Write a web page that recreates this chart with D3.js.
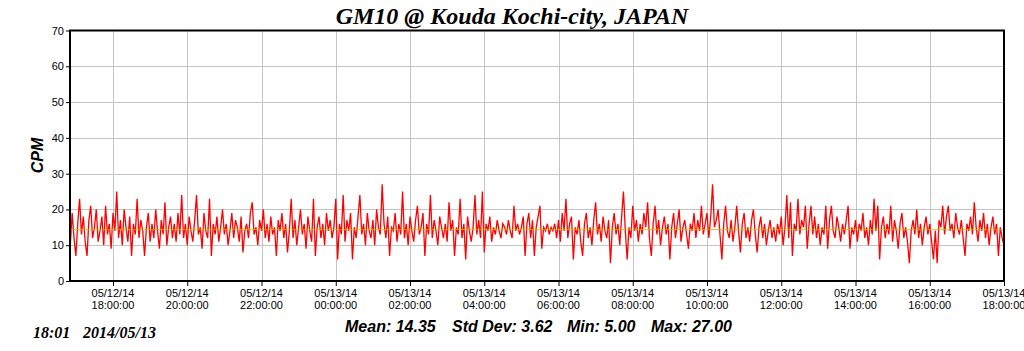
<!DOCTYPE html>
<html>
<head>
<meta charset="utf-8">
<script src="https://cdn.jsdelivr.net/npm/d3@7"></script>
<style>
  html, body { margin: 0; padding: 0; background: #fff; }
  svg { display: block; }
</style>
</head>
<body>
<svg id="chart" width="1024" height="351"></svg>
<script>
// ---- data ----
const titleText = "GM10 @ Kouda Kochi-city, JAPAN";
const yLabel = "CPM";
const startTime = "2014-05-12 16:51";   // first sample
const stepMinutes = 3;                    // sample spacing
const domainStart = "2014-05-12 16:50:30";
const domainEnd = "2014-05-13 18:00:00";
const yTicks = [0, 10, 20, 30, 40, 50, 60, 70];
const xTickLabels = [
  "05/12/14 18:00:00", "05/12/14 20:00:00", "05/12/14 22:00:00",
  "05/13/14 00:00:00", "05/13/14 02:00:00", "05/13/14 04:00:00",
  "05/13/14 06:00:00", "05/13/14 08:00:00", "05/13/14 10:00:00",
  "05/13/14 12:00:00", "05/13/14 14:00:00", "05/13/14 16:00:00",
  "05/13/14 18:00:00"
];
const cpm = [
  10,19,12,7,16,23,13,18,11,7,17,21,12,15,20,11,14,18,10,21,
  13,16,9,19,14,25,12,17,10,20,15,11,18,7,16,13,23,12,17,14,
  7,15,19,11,16,12,20,14,9,17,13,22,10,15,18,12,16,11,19,13,
  24,12,16,10,18,14,11,17,24,13,15,9,19,14,12,23,7,16,13,18,
  11,15,20,13,16,10,14,19,12,17,15,11,18,8,14,16,12,19,22,13,
  15,10,17,14,20,12,16,11,18,13,15,7,17,14,19,12,16,8,14,23,
  12,17,10,15,20,13,16,9,18,14,11,23,7,15,18,12,16,10,19,14,
  17,12,15,23,6,16,13,24,11,17,14,19,6,15,12,18,24,13,16,10,
  19,14,12,17,10,20,15,13,27,16,12,18,7,15,14,19,11,16,13,25,
  12,16,10,18,14,11,17,21,13,15,19,7,16,13,24,12,17,14,10,18,
  15,12,16,11,22,14,17,7,15,13,23,12,16,6,18,14,11,15,24,13,
  17,12,25,8,16,14,18,11,15,13,17,14,12,16,15,13,17,14,12,21,
  14,16,13,15,18,7,16,19,12,17,7,15,18,21,9,15,14,16,13,15,
  14,16,12,17,11,19,14,23,12,16,18,6,15,13,17,11,7,16,19,12,
  15,10,17,22,13,16,11,18,14,12,17,5,15,19,13,16,10,18,25,14,
  6,15,12,21,14,17,11,16,13,19,15,22,12,7,16,21,13,17,10,15,
  18,13,16,6,15,19,12,16,20,11,15,17,13,9,16,14,19,12,17,14,
  21,13,16,19,12,18,27,15,17,20,13,6,16,21,14,12,17,11,15,21,
  14,8,16,19,12,15,11,17,20,13,8,15,18,12,16,10,14,17,12,15,
  11,16,13,18,10,15,24,12,22,7,16,14,23,13,17,15,21,9,16,21,
  13,18,12,16,10,15,13,21,9,17,21,14,12,18,15,11,16,13,17,21,
  9,15,13,17,11,16,14,19,12,15,10,17,13,23,14,21,6,15,18,12,
  16,13,21,11,17,14,9,16,19,12,15,11,5,14,17,13,20,12,16,10,
  15,18,13,16,11,6,14,5,17,15,21,13,18,21,14,16,12,19,15,13,
  17,12,7,16,14,18,13,22,15,11,17,14,19,12,16,10,15,18,13,16,
  7,15,12,10
];
const statLabels = ["Mean:", "Std Dev:", "Min:", "Max:"];
const statValues = [14.35, 3.62, 5.00, 27.00];
const stampTime = "18:01";
const stampDate = "2014/05/13";

// ---- layout ----
const svg = d3.select("#chart");
const L = 70, R = 1004, T = 30.5, B = 281;

const parseFull = d3.timeParse("%Y-%m-%d %H:%M:%S");
const parseMin = d3.timeParse("%Y-%m-%d %H:%M");
const parseTick = d3.timeParse("%m/%d/%y %H:%M:%S");
const t0 = parseMin(startTime);
const series = cpm.map((v, i) => ({ t: new Date(t0.getTime() + i * stepMinutes * 60000), v }));
const xTicks = xTickLabels.map(s => parseTick(s));

const x = d3.scaleTime().domain([parseFull(domainStart), parseFull(domainEnd)]).range([L, R]);
const y = d3.scaleLinear().domain([0, 70]).range([B, T]);

// grid
const grid = svg.append("g").attr("stroke", "#c4c4c4").attr("stroke-width", 1).attr("shape-rendering", "crispEdges");
grid.selectAll("line.h").data(yTicks.slice(1, -1)).join("line")
  .attr("x1", L).attr("x2", R).attr("y1", d => Math.round(y(d)) + 0.5).attr("y2", d => Math.round(y(d)) + 0.5);
grid.selectAll("line.v").data(xTicks.slice(0, -1)).join("line")
  .attr("y1", T).attr("y2", B).attr("x1", d => Math.round(x(d)) + 0.5).attr("x2", d => Math.round(x(d)) + 0.5);

// data line
const clip = svg.append("clipPath").attr("id", "clip").append("rect")
  .attr("x", L).attr("y", T).attr("width", R - L).attr("height", B - T);
svg.append("path").datum(series)
  .attr("clip-path", "url(#clip)")
  .attr("fill", "none").attr("stroke", "#ff0000").attr("stroke-width", 1.3)
  .attr("d", d3.line().x(d => x(d.t)).y(d => y(d.v)));

// mean line
svg.append("line")
  .attr("x1", L).attr("x2", R)
  .attr("y1", y(statValues[0])).attr("y2", y(statValues[0]))
  .attr("stroke", "#c8c000").attr("stroke-width", 1).attr("opacity", 0.8);

// axes
const yAxis = d3.axisLeft(y).tickValues(yTicks).tickSize(4).tickPadding(2).tickFormat(d3.format("d"));
const gy = svg.append("g").attr("transform", `translate(${L},0)`).call(yAxis);
gy.select(".domain").remove();
gy.selectAll("text").attr("font-family", "Arial, 'Liberation Sans', sans-serif").attr("font-size", 11).attr("fill", "#000");

const xAxis = d3.axisBottom(x).tickValues(xTicks).tickSize(5).tickFormat("");
const gx = svg.append("g").attr("transform", `translate(0,${B})`).call(xAxis);
gx.select(".domain").remove();
const fmtD = d3.timeFormat("%m/%d/%y"), fmtT = d3.timeFormat("%H:%M:%S");
const xl = svg.append("g").attr("font-family", "Arial, 'Liberation Sans', sans-serif").attr("font-size", 11).attr("fill", "#000").attr("text-anchor", "middle");
xl.selectAll("text.d").data(xTicks).join("text").attr("x", d => x(d)).attr("y", 297).text(d => fmtD(d));
xl.selectAll("text.t").data(xTicks).join("text").attr("x", d => x(d)).attr("y", 309).text(d => fmtT(d));

// frame
svg.append("rect").attr("x", L).attr("y", T).attr("width", R - L).attr("height", B - T)
  .attr("fill", "none").attr("stroke", "#000").attr("stroke-width", 2);

// title
svg.append("text").attr("x", 512).attr("y", 24).attr("text-anchor", "middle")
  .attr("font-family", "'Times New Roman', 'Liberation Serif', serif").attr("font-style", "italic").attr("font-weight", "bold")
  .attr("font-size", 24).text(titleText);

// y label
svg.append("text").attr("transform", "translate(43,155.5) rotate(-90)").attr("text-anchor", "middle")
  .attr("font-family", "Arial, 'Liberation Sans', sans-serif").attr("font-style", "italic").attr("font-weight", "bold")
  .attr("font-size", 16).text(yLabel);

// timestamp
const stamp = svg.append("g").attr("font-family", "'Times New Roman', 'Liberation Serif', serif")
  .attr("font-style", "italic").attr("font-weight", "bold").attr("font-size", 16);
stamp.append("text").attr("x", 33).attr("y", 338).text(stampTime);
stamp.append("text").attr("x", 83).attr("y", 338).text(stampDate);

// stats
const statX = [345, 452, 567, 651];
svg.append("g").attr("font-family", "Arial, 'Liberation Sans', sans-serif").attr("font-style", "italic").attr("font-weight", "bold").attr("font-size", 16)
  .selectAll("text").data(statLabels).join("text")
  .attr("x", (d, i) => statX[i]).attr("y", 332)
  .text((d, i) => `${d} ${statValues[i].toFixed(2)}`);
</script>
</body>
</html>
